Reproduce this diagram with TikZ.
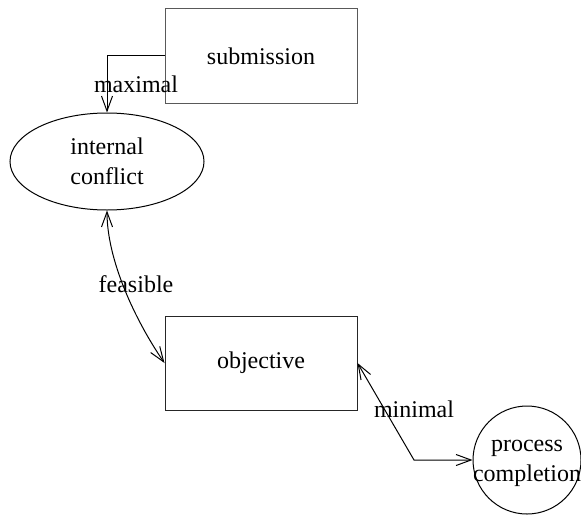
\documentclass[tikz,border=0pt]{standalone}
\usepackage{fontspec}
\setmainfont{Liberation Serif}
\usetikzlibrary{arrows.meta,shapes.geometric}
\begin{document}
\begin{tikzpicture}[x=0.5pt,y=-0.5pt,
  every node/.style={font=\fontsize{12}{15}\selectfont},
  boxnode/.style={draw,rectangle,minimum width=96pt,minimum height=47pt,inner sep=0pt,line width=0.5pt},
  ellnode/.style={draw,ellipse,minimum width=97pt,minimum height=48.5pt,inner sep=0pt,align=center,line width=0.5pt},
  circnode/.style={draw,circle,minimum size=54pt,inner sep=0pt,line width=0.5pt},
  edge/.style={line width=0.5pt},
  lbl/.style={inner sep=0pt}]
\useasboundingbox (0,0) rectangle (581,519);
\node[boxnode,draw=black!65] (sub) at (261,56) {submission};
\node[ellnode] (ic) at (107,161.5) {internal\\conflict};
\node[boxnode,draw=black!85] (obj) at (261,363) {objective};
\node[circnode] (pc) at (527,460) {\makebox[0pt]{\begin{tabular}{@{}c@{}}process\\completion\end{tabular}}};
\coordinate (m) at (414,460);
\draw[edge,-{Straight Barb[length=7.5pt,width=5.5pt]}] (sub.west) -| (ic.north);
\draw[edge,{Straight Barb[length=7.5pt,width=5.5pt]}-{Straight Barb[length=7.5pt,width=5.5pt]}] (ic.south) .. controls (107,260) and (135,320) .. (obj.west);
\draw[edge,{Straight Barb[length=7.5pt,width=5.5pt]}-{Straight Barb[length=7.5pt,width=5.5pt]}] (obj.east) -- (m) -- (pc.west);
\node[lbl] (l1) at (136,84) {maximal};
\node[lbl] (l2) at (136,284) {feasible};
\node[lbl] (l3) at (414,409) {minimal};
\end{tikzpicture}
\end{document}
